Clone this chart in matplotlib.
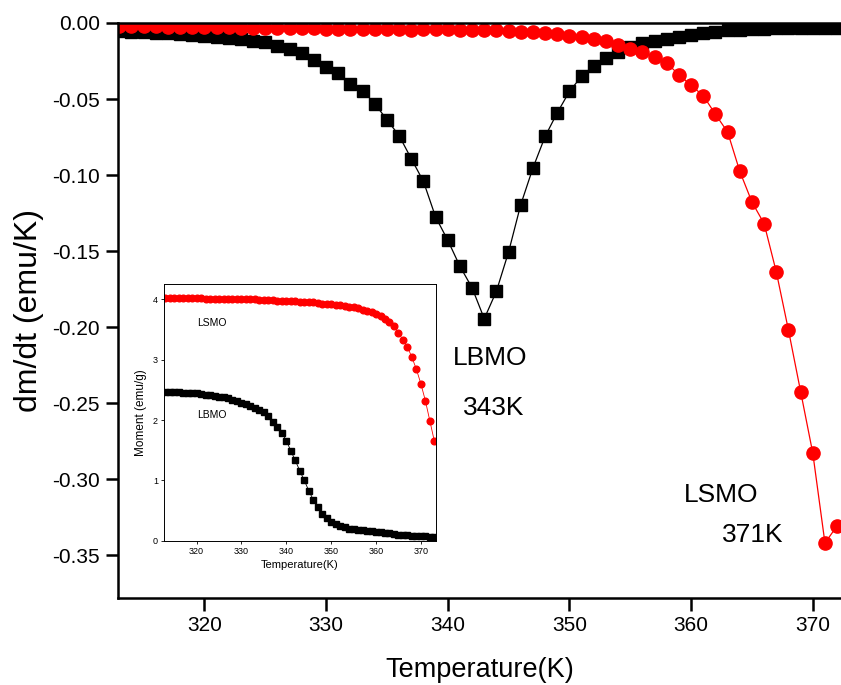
import matplotlib.pyplot as plt
import numpy as np

plt.rcParams['font.family'] = ['Liberation Sans', 'DejaVu Sans']

# --- main panel: dm/dT ---
temp = np.arange(313, 373)

lbmo_dmdt = [-0.0055, -0.0058, -0.0061, -0.0064, -0.0068, -0.0073, -0.0078, -0.0084,
             -0.0090, -0.0097, -0.0106, -0.0116, -0.0128, -0.0150, -0.0172, -0.0200,
             -0.0240, -0.0288, -0.0330, -0.0398, -0.0444, -0.0530, -0.0636, -0.0740,
             -0.0892, -0.1041, -0.1275, -0.1428, -0.1599, -0.1741, -0.1944, -0.1763,
             -0.1505, -0.1194, -0.0953, -0.0746, -0.0590, -0.0450, -0.0350, -0.0280,
             -0.0230, -0.0190, -0.0160, -0.0130, -0.0118, -0.0105, -0.0090, -0.0077,
             -0.0066, -0.0056, -0.0048, -0.0043, -0.0040, -0.0037, -0.0035, -0.0033,
             -0.0032, -0.0031, -0.0030, -0.0030]

lsmo_dmdt = [-0.0020, -0.0021, -0.0022, -0.0023, -0.0024, -0.0025, -0.0026, -0.0027,
             -0.0028, -0.0029, -0.0030, -0.0031, -0.0032, -0.0033, -0.0034, -0.0035,
             -0.0036, -0.0037, -0.0038, -0.0039, -0.0040, -0.0041, -0.0042, -0.0042,
             -0.0043, -0.0040, -0.0041, -0.0042, -0.0043, -0.0046, -0.0047, -0.0048,
             -0.0052, -0.0057, -0.0061, -0.0068, -0.0072, -0.0083, -0.0090, -0.0105,
             -0.0118, -0.0144, -0.0173, -0.0188, -0.0221, -0.0264, -0.0340, -0.0410,
             -0.0478, -0.0600, -0.0717, -0.0975, -0.1177, -0.1319, -0.1636, -0.2019,
             -0.2423, -0.2828, -0.3419, -0.3305]

yticks = [-0.35, -0.30, -0.25, -0.20, -0.15, -0.10, -0.05, 0.00]
ytick_labels = ['-0.35', '-0.30', '-0.25', '-0.20', '-0.15', '-0.10', '-0.05', '0.00']

# --- inset: moment vs T ---
temp_in = np.arange(313, 374)

lsmo_m = [4.02, 4.02, 4.02, 4.02, 4.02, 4.02, 4.02, 4.02, 4.02, 4.01, 4.01, 4.01, 4.01,
          4.01, 4.01, 4.01, 4.00, 4.00, 4.00, 4.00, 4.00, 3.99, 3.99, 3.99, 3.99, 3.98,
          3.98, 3.98, 3.97, 3.97, 3.96, 3.96, 3.95, 3.95, 3.94, 3.93, 3.93, 3.92, 3.91,
          3.90, 3.89, 3.88, 3.87, 3.85, 3.83, 3.81, 3.79, 3.76, 3.72, 3.67, 3.62, 3.56,
          3.44, 3.33, 3.21, 3.04, 2.84, 2.60, 2.32, 1.985, 1.65]

lbmo_m = [2.47, 2.47, 2.46, 2.46, 2.45, 2.45, 2.44, 2.44, 2.43, 2.42, 2.41, 2.40, 2.39,
          2.38, 2.36, 2.34, 2.32, 2.29, 2.26, 2.23, 2.20, 2.17, 2.13, 2.06, 1.97, 1.89,
          1.79, 1.66, 1.49, 1.33, 1.16, 1.00, 0.83, 0.68, 0.56, 0.45, 0.37, 0.31, 0.27,
          0.24, 0.22, 0.20, 0.19, 0.18, 0.17, 0.16, 0.155, 0.15, 0.14, 0.13, 0.12, 0.11,
          0.10, 0.095, 0.09, 0.085, 0.08, 0.075, 0.07, 0.068, 0.065]

W, H = 841, 685
fig = plt.figure(figsize=(W / 100, H / 100), dpi=100)

# main axes (right edge cut at the figure border)
ax = fig.add_axes([118 / W, 1 - 598 / H, (842 - 118) / W, (598 - 23) / H])
ax.plot(temp, lbmo_dmdt, color='black', lw=0.9, marker='s', ms=9,
        mfc='black', mec='black')
ax.plot(temp, lsmo_dmdt, color='red', lw=0.9, marker='o', ms=9.5,
        mfc='red', mec='red')
ax.set_xlim(312.9, 372.4)
ax.set_ylim(-0.378, 0.0)
ax.set_xticks([320, 330, 340, 350, 360, 370])
ax.set_yticks(yticks)
ax.set_yticklabels(ytick_labels)
ax.tick_params(direction='out', length=9, width=1.8, labelsize=15, pad=4)
for side in ['left', 'bottom', 'top']:
    ax.spines[side].set_linewidth(1.8)
ax.spines['right'].set_visible(False)
ax.set_xlabel('Temperature(K)', fontsize=19.5, labelpad=16)
ax.set_ylabel('dm/dt (emu/K)', fontsize=23, labelpad=6)

fig.text(490 / W, 1 - 358 / H, 'LBMO', fontsize=19, ha='center', va='center')
fig.text(494 / W, 1 - 408 / H, '343K', fontsize=19, ha='center', va='center')
fig.text(721 / W, 1 - 495 / H, 'LSMO', fontsize=19, ha='center', va='center')
fig.text(753 / W, 1 - 535 / H, '371K', fontsize=19, ha='center', va='center')

# inset
axin = fig.add_axes([164.3 / W, 1 - 540.7 / H, (435.7 - 164.3) / W, (540.7 - 284.3) / H])
axin.plot(temp_in, lsmo_m, color='red', lw=0.6, marker='o', ms=4.8,
          mfc='red', mec='red')
axin.plot(temp_in, lbmo_m, color='black', lw=0.6, marker='s', ms=3.8,
          mfc='black', mec='black')
axin.set_xlim(312.8, 373.3)
axin.set_ylim(0, 4.25)
axin.set_xticks([320, 330, 340, 350, 360, 370])
axin.set_yticks([0, 1, 2, 3, 4])
axin.tick_params(direction='out', length=2.5, width=0.6, labelsize=6.5, pad=2)
for s in axin.spines.values():
    s.set_linewidth(0.7)
axin.set_xlabel('Temperature(K)', fontsize=8, labelpad=3)
axin.set_ylabel('Moment (emu/g)', fontsize=8.5, labelpad=4)
axin.text(0.12, 0.85, 'LSMO', transform=axin.transAxes, fontsize=7.5, ha='left', va='center')
axin.text(0.12, 0.49, 'LBMO', transform=axin.transAxes, fontsize=7.5, ha='left', va='center')

fig.savefig('out.png', dpi=100)
